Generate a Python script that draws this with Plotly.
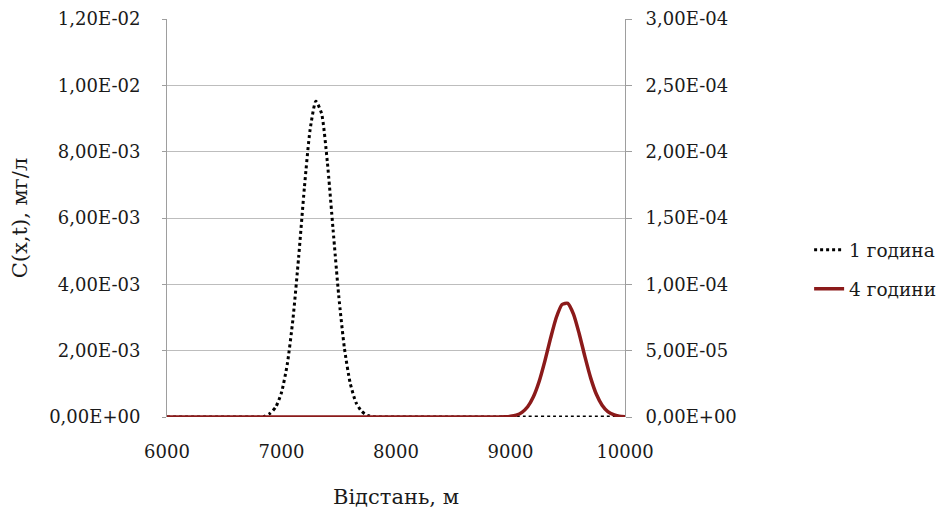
import plotly.graph_objects as go

# Distance, m
x1 = [6000, 6500, 6800, 6850, 6900, 6950, 7000, 7050, 7100, 7150, 7200, 7250, 7300,
      7350, 7400, 7450, 7500, 7550, 7600, 7650, 7700, 7750, 7800, 7850, 8000, 8500,
      9000, 9500, 10000]
# 1 година (left axis), mg/l
c1 = [0, 0, 0, 0.00002, 0.00011, 0.00030, 0.00074, 0.00158, 0.00295, 0.00483, 0.00692,
      0.00867, 0.00952, 0.00915, 0.00770, 0.00567, 0.00365, 0.00206, 0.00102, 0.00044,
      0.00017, 0.00005, 0.00001, 0, 0, 0, 0, 0, 0]

x2 = [6000, 6500, 7000, 7500, 8000, 8500, 8900, 8950, 9000, 9050, 9100, 9150, 9200,
      9250, 9300, 9350, 9400, 9450, 9500, 9550, 9600, 9650, 9700, 9750, 9800, 9850,
      9900, 9950, 10000]
# 4 години (right axis), mg/l
c2 = [0, 0, 0, 0, 0, 0, 0, 0.0000001, 0.0000005, 0.0000014, 0.0000035, 0.0000077,
      0.0000152, 0.0000267, 0.0000421, 0.0000594, 0.0000750, 0.0000848, 0.0000857,
      0.0000776, 0.0000628, 0.0000455, 0.0000295, 0.0000171, 0.0000089, 0.0000041,
      0.0000017, 0.0000006, 0.0000002]

y1_ticks = [0, 0.002, 0.004, 0.006, 0.008, 0.010, 0.012]
y1_text = ["0,00E+00", "2,00E-03", "4,00E-03", "6,00E-03", "8,00E-03", "1,00E-02", "1,20E-02"]
y2_ticks = [0, 0.00005, 0.0001, 0.00015, 0.0002, 0.00025, 0.0003]
y2_text = ["0,00E+00", "5,00E-05", "1,00E-04", "1,50E-04", "2,00E-04", "2,50E-04", "3,00E-04"]
x_ticks = [6000, 7000, 8000, 9000, 10000]

FONT = "DejaVu Serif"
TXT = "#1a1a1a"

fig = go.Figure()
fig.add_trace(go.Scatter(x=x1, y=c1, name="1 година", mode="lines",
                         line=dict(color="black", width=3, dash="dot",
                                   shape="spline", smoothing=0.6),
                         legendgroup="a"))
fig.add_trace(go.Scatter(x=x2, y=c2, name="4 години", mode="lines", yaxis="y2",
                         line=dict(color="#8b1a1a", width=3.5,
                                   shape="spline", smoothing=0.6),
                         legendgroup="b"))

fig.update_layout(
    width=946, height=515,
    margin=dict(l=159, r=329, t=11, b=106, autoexpand=False),
    paper_bgcolor="white", plot_bgcolor="white",
    font=dict(family=FONT, size=18, color=TXT),
    showlegend=True,
    legend=dict(x=1.402, y=0.37, xanchor="left", yanchor="middle",
                font=dict(family=FONT, size=18.5, color=TXT), tracegroupgap=12,
                traceorder="grouped", bgcolor="rgba(0,0,0,0)"),
    xaxis=dict(range=[6000, 10000], tickvals=x_ticks, ticktext=[str(v) for v in x_ticks],
               showgrid=False, zeroline=False, showline=False, ticks="",
               ticklabelstandoff=22, ticklabeloverflow="allow",
               title=dict(text="Відстань, м", font=dict(family=FONT, size=21), standoff=28)),
    yaxis=dict(range=[0, 0.012], tickvals=y1_ticks, ticktext=y1_text,
               showgrid=True, gridcolor="#bdbdbd", gridwidth=1, zeroline=False,
               showline=True, linecolor="#9e9e9e", linewidth=1,
               ticks="outside", ticklen=4, tickcolor="#9e9e9e",
               ticklabelstandoff=18, ticklabeloverflow="allow",
               title=dict(text="C(x,t), мг/л", font=dict(family=FONT, size=21), standoff=22)),
    yaxis2=dict(range=[0, 0.0003], tickvals=y2_ticks, ticktext=y2_text,
                overlaying="y", side="right", showgrid=False, zeroline=False,
                showline=True, linecolor="#9e9e9e", linewidth=1,
                ticks="outside", ticklen=6, tickcolor="#9e9e9e",
                ticklabelstandoff=10, ticklabeloverflow="allow"),
)

fig.write_html("out.html")
